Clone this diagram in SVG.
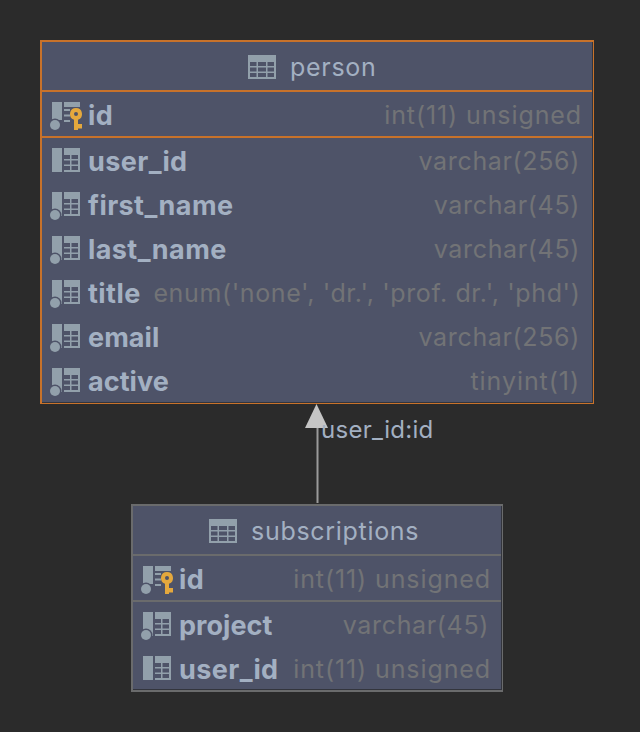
<svg xmlns="http://www.w3.org/2000/svg" xmlns:xlink="http://www.w3.org/1999/xlink" width="640" height="732" viewBox="0 0 640 732">
<style>
text{font-family:Inter,"Liberation Sans",sans-serif}
.box{fill:#4e5368}
.o{fill:#c8722a}
.g{fill:#6a6b6c}
.d{fill:#33353d}
.title{font-size:25px;fill:#a3b0c2;letter-spacing:.7px}
.name{font-size:27px;font-weight:700;fill:#a3b0c2;letter-spacing:.42px}
.tight{letter-spacing:.05px}
.type{font-size:25px;fill:#727376;text-anchor:end;letter-spacing:.65px}
.int{letter-spacing:.9px}
.tiny{letter-spacing:.95px}
.enum{letter-spacing:.63px}
.ic{fill:#92a0ab}
.lbl{font-size:24px;fill:#a3b0c2;letter-spacing:.3px}
</style>
<defs>
<path id="tbl" class="ic" fill-rule="evenodd" d="M0 0H28V24H0ZM2 7V11H8.500V7ZM10 7V11H18V7ZM19.500 7V11H26V7ZM2 12.500V16.500H8.500V12.500ZM10 12.500V16.500H18V12.500ZM19.500 12.500V16.500H26V12.500ZM2 18V22H8.500V18ZM10 18V22H18V18ZM19.500 18V22H26V18Z"/>
<path id="col" class="ic" fill-rule="evenodd" d="M0 0H10V24H0ZM12 0H28V24H12ZM12 7V11H18V7ZM19.500 7V11H26V7ZM12 12.500V16.500H18V12.500ZM19.500 12.500V16.500H26V12.500ZM12 18V22H18V18ZM19.500 18V22H26V18Z"/>
<g id="dot"><circle cx="3" cy="23" r="6.500" fill="#4e5368"/><circle cx="3" cy="23" r="5" class="ic"/></g>
<g id="pk">
<path class="ic" d="M0 0H10V18H0ZM12 0H28V5H12ZM12 7H18V9H12ZM12 12.500H18V14.500H12ZM12 18H18V20H12Z"/>
<use xlink:href="#dot"/>
<path fill="#e4a83d" fill-rule="evenodd" d="M24 6A6 6 0 0 1 26 17.660V22H30V26.500H26V28H22V17.660A6 6 0 0 1 24 6ZM24 10A2 2 0 1 0 24 14A2 2 0 1 0 24 10Z"/>
</g>
</defs>
<rect width="640" height="732" fill="#2b2b2b"/>
<g id="connectors">
<path d="M317.500 503V428" stroke="#9a9a9a" stroke-width="2" fill="none"/>
<path d="M316.500 404L328 428H305Z" fill="#c5c5c5"/>
<text class="lbl" x="321" y="438">user_id:id</text>
</g>
<g id="person">
<rect class="box" x="40" y="40" width="554" height="364"/>
<rect class="d" x="592" y="42" width="1" height="361"/>
<rect class="d" x="42" y="402" width="551" height="1"/>
<rect class="o" x="40" y="40" width="554" height="2"/>
<rect class="o" x="40" y="40" width="2" height="364"/>
<rect class="o" x="593" y="40" width="1" height="364"/>
<rect class="o" x="40" y="403" width="554" height="1"/>
<rect class="o" x="42" y="90" width="550" height="2"/>
<rect class="o" x="42" y="136" width="550" height="2"/>
<use xlink:href="#tbl" x="248" y="55"/>
<text class="title" x="290" y="76">person</text>
<use xlink:href="#pk" x="52" y="102"/>
<text class="name" x="88" y="124.500">id</text>
<text class="type int" x="582" y="124">int(11) unsigned</text>
<use xlink:href="#col" x="52" y="148"/>
<text class="name" x="88" y="170.500">user_id</text>
<text class="type" x="580" y="170">varchar(256)</text>
<use xlink:href="#col" x="52" y="192"/><use xlink:href="#dot" x="52" y="192"/>
<text class="name" x="88" y="214.500">first_name</text>
<text class="type" x="580" y="214">varchar(45)</text>
<use xlink:href="#col" x="52" y="236"/><use xlink:href="#dot" x="52" y="236"/>
<text class="name" x="88" y="258.500">last_name</text>
<text class="type" x="580" y="258">varchar(45)</text>
<use xlink:href="#col" x="52" y="280"/><use xlink:href="#dot" x="52" y="280"/>
<text class="name" x="88" y="302.500">title</text>
<text class="type enum" x="580.500" y="302">enum('none', 'dr.', 'prof. dr.', 'phd')</text>
<use xlink:href="#col" x="52" y="324"/><use xlink:href="#dot" x="52" y="324"/>
<text class="name tight" x="88" y="346.500">email</text>
<text class="type" x="580" y="346">varchar(256)</text>
<use xlink:href="#col" x="52" y="368"/><use xlink:href="#dot" x="52" y="368"/>
<text class="name tight" x="88" y="390.500">active</text>
<text class="type tiny" x="580" y="390">tinyint(1)</text>
</g>
<g id="subscriptions">
<rect class="box" x="131" y="504" width="372" height="188"/>
<rect class="d" x="501" y="506" width="1" height="184"/>
<rect class="d" x="133" y="689" width="369" height="1"/>
<rect class="g" x="131" y="504" width="372" height="2"/>
<rect class="g" x="131" y="504" width="2" height="188"/>
<rect class="g" x="502" y="504" width="1" height="188"/>
<rect class="g" x="131" y="690" width="372" height="2"/>
<rect class="g" x="133" y="554" width="368" height="2"/>
<rect class="g" x="133" y="600" width="368" height="2"/>
<use xlink:href="#tbl" x="209" y="519"/>
<text class="title" x="251" y="540">subscriptions</text>
<use xlink:href="#pk" x="143" y="566"/>
<text class="name" x="179" y="588.500">id</text>
<text class="type int" x="491" y="588">int(11) unsigned</text>
<use xlink:href="#col" x="143" y="612"/><use xlink:href="#dot" x="143" y="612"/>
<text class="name tight" x="179" y="634.500">project</text>
<text class="type" x="489" y="634">varchar(45)</text>
<use xlink:href="#col" x="143" y="656"/>
<text class="name" x="179" y="678.500">user_id</text>
<text class="type int" x="491" y="678">int(11) unsigned</text>
</g>
</svg>
